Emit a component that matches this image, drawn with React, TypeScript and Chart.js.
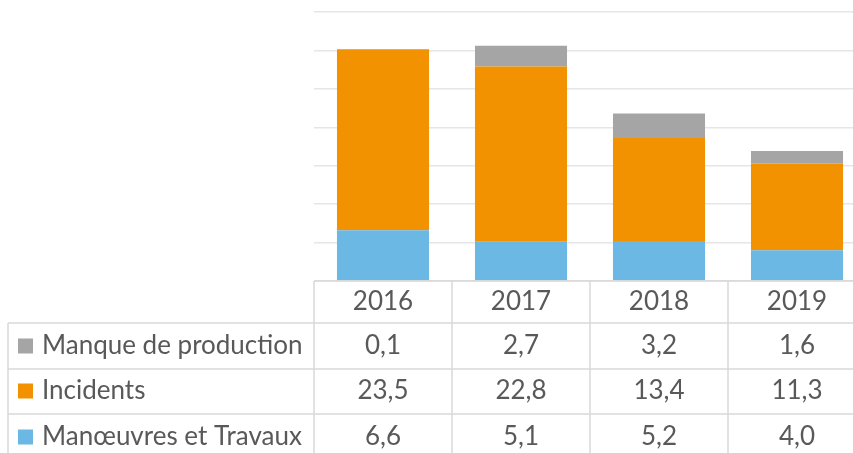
import React, { useEffect, useRef } from "react";
import { Chart, registerables } from "chart.js";

Chart.register(...registerables);

const categories = ["2016", "2017", "2018", "2019"];
const manoeuvres = [6.6, 5.1, 5.2, 4.0];
const incidents = [23.5, 22.8, 13.4, 11.3];
const manque = [0.1, 2.7, 3.2, 1.6];
const labelsManoeuvres = ["6,6", "5,1", "5,2", "4,0"];
const labelsIncidents = ["23,5", "22,8", "13,4", "11,3"];
const labelsManque = ["0,1", "2,7", "3,2", "1,6"];

const C_GREY = "#A5A5A5";
const C_ORANGE = "#F29200";
const C_BLUE = "#6CB8E4";
const FONT = "Lato";
const TEXT = "#595959";
const LINE = "#D9D9D9";

const tablePlugin = {
  id: "dataTable",
  afterDraw(chart: any) {
    const ctx = chart.ctx;
    const area = chart.chartArea;
    const xs = chart.scales.x;
    const n = categories.length;
    const half = (xs.getPixelForValue(1) - xs.getPixelForValue(0)) / 2;
    const top = area.bottom;
    const rowTops = [top, top + 42, top + 88, top + 133];
    const bottom = chart.height + 10;
    const leftX = 8;
    const colLeft = xs.getPixelForValue(0) - half;
    ctx.save();
    ctx.strokeStyle = LINE;
    ctx.lineWidth = 1.5;
    ctx.beginPath();
    ctx.moveTo(colLeft, rowTops[0]);
    ctx.lineTo(chart.width, rowTops[0]);
    for (let r = 1; r < rowTops.length; r++) {
      ctx.moveTo(leftX, rowTops[r]);
      ctx.lineTo(chart.width, rowTops[r]);
    }
    ctx.moveTo(leftX, rowTops[1]);
    ctx.lineTo(leftX, bottom);
    for (let i = 0; i <= n; i++) {
      const x = xs.getPixelForValue(0) - half + i * 2 * half;
      ctx.moveTo(x, rowTops[0]);
      ctx.lineTo(x, bottom);
    }
    ctx.stroke();

    ctx.font = `26px ${FONT}`;
    ctx.fillStyle = TEXT;
    ctx.textBaseline = "middle";
    ctx.textAlign = "center";
    const rowCenters = [top + 21, top + 65, top + 110, top + 156];
    categories.forEach((c, i) => {
      ctx.fillText(c, xs.getPixelForValue(i), rowCenters[0]);
    });
    const rows = [
      { name: "Manque de production", color: C_GREY, vals: labelsManque },
      { name: "Incidents", color: C_ORANGE, vals: labelsIncidents },
      { name: "Manœuvres et Travaux", color: C_BLUE, vals: labelsManoeuvres },
    ];
    rows.forEach((row, r) => {
      const cy = rowCenters[r + 1];
      ctx.fillStyle = row.color;
      ctx.fillRect(18, cy - 7.5, 15, 15);
      ctx.fillStyle = TEXT;
      ctx.textAlign = "left";
      ctx.fillText(row.name, 42, cy);
      ctx.textAlign = "center";
      row.vals.forEach((v, i) => {
        ctx.fillText(v, xs.getPixelForValue(i), cy);
      });
    });
    ctx.restore();
  },
};

export default function App() {
  const ref = useRef<HTMLCanvasElement>(null);
  useEffect(() => {
    document.body.style.margin = "0";
    document.body.style.overflow = "hidden";
    const chart = new Chart(ref.current!, {
      type: "bar",
      data: {
        labels: categories,
        datasets: [
          { label: "Manœuvres et Travaux", data: manoeuvres, backgroundColor: C_BLUE },
          { label: "Incidents", data: incidents, backgroundColor: C_ORANGE },
          { label: "Manque de production", data: manque, backgroundColor: C_GREY },
        ],
      },
      options: {
        animation: false,
        responsive: false,
        devicePixelRatio: 1,
        layout: { padding: { left: 314, right: 14, top: 12, bottom: 172 } },
        datasets: { bar: { categoryPercentage: 1, barPercentage: 0.667 } },
        plugins: { legend: { display: false }, tooltip: { enabled: false } },
        scales: {
          x: { stacked: true, display: false },
          y: {
            stacked: true,
            min: 0,
            max: 35,
            z: 1,
            ticks: { display: false, stepSize: 5 },
            border: { display: false },
            grid: { color: "rgba(210,210,210,0.55)", lineWidth: 1.5, drawTicks: false },
          },
        },
      },
      plugins: [tablePlugin],
    });
    return () => chart.destroy();
  }, []);
  return (
    <div style={{ width: 853, height: 453, overflow: "hidden", position: "relative" }}>
      <canvas ref={ref} width={880} height={453} style={{ display: "block" }} />
    </div>
  );
}
